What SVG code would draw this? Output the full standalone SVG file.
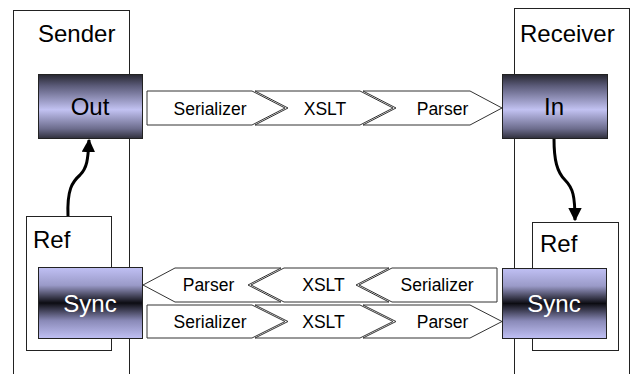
<svg xmlns="http://www.w3.org/2000/svg" width="633" height="374" viewBox="0 0 633 374">
<defs>
<linearGradient id="gOut" x1="0" y1="0" x2="0" y2="1">
<stop offset="0" stop-color="#262630"/>
<stop offset="0.18" stop-color="#5c5c7a"/>
<stop offset="0.55" stop-color="#c2c2f2"/>
<stop offset="0.85" stop-color="#6c6c8c"/>
<stop offset="1" stop-color="#30303c"/>
</linearGradient>
<linearGradient id="gSync" x1="0" y1="0" x2="0" y2="1">
<stop offset="0" stop-color="#c0c0f4"/>
<stop offset="0.25" stop-color="#9a9ac8"/>
<stop offset="0.5" stop-color="#0c0c12"/>
<stop offset="0.75" stop-color="#8a8ab8"/>
<stop offset="1" stop-color="#c0c0f4"/>
</linearGradient>
<marker id="ah" viewBox="0 0 10 10" refX="9" refY="5" markerWidth="4.5" markerHeight="4.5" orient="auto" markerUnits="strokeWidth">
<path d="M0,0 L10,5 L0,10 z" fill="#000"/>
</marker>
</defs>
<style>
.box{fill:#fff;stroke:#222;stroke-width:1}
.node{stroke:#222;stroke-width:1}
.lbl{font-family:"Liberation Sans",Arial,sans-serif;font-size:24px;fill:#000}
.nt{font-family:"Liberation Sans",Arial,sans-serif;font-size:24px;text-anchor:middle}
.st{font-family:"Liberation Sans",Arial,sans-serif;font-size:17.5px;text-anchor:middle;fill:#000}
.chev{fill:#fff;stroke:#333;stroke-width:1}
.conn{fill:none;stroke:#000;stroke-width:3;marker-end:url(#ah)}
</style>
<rect width="633" height="374" fill="#fff"/>
<g id="sender">
<rect class="box" x="13.5" y="10.5" width="116" height="370"/>
<text class="lbl" x="38" y="42">Sender</text>
</g>
<g id="receiver">
<rect class="box" x="514.5" y="8.5" width="115" height="372"/>
<text class="lbl" x="520" y="42">Receiver</text>
</g>
<g id="ref-left">
<rect class="box" x="26.5" y="216.5" width="85" height="134"/>
<text class="lbl" x="33" y="248">Ref</text>
</g>
<g id="ref-right">
<rect class="box" x="532.5" y="222.5" width="86" height="128"/>
<text class="lbl" x="540" y="252">Ref</text>
</g>
<g id="out">
<rect class="node" x="38.5" y="74.5" width="104" height="64" fill="url(#gOut)"/>
<text class="nt" x="90" y="115" fill="#000">Out</text>
</g>
<g id="in">
<rect class="node" x="502.5" y="74.5" width="105" height="64" fill="url(#gOut)"/>
<text class="nt" x="554" y="115" fill="#000">In</text>
</g>
<g id="sync-left">
<rect class="node" x="38.5" y="267.5" width="104" height="71" fill="url(#gSync)"/>
<text class="nt" x="90" y="312" fill="#fff">Sync</text>
</g>
<g id="sync-right">
<rect class="node" x="502.5" y="268.5" width="104" height="70" fill="url(#gSync)"/>
<text class="nt" x="554" y="312" fill="#fff">Sync</text>
</g>
<g id="pipe-top">
<polygon class="chev" points="147,91 252,91 285,108 252,125 147,125"/>
<polygon class="chev" points="255,91 360,91 393,108 360,125 255,125 288,108"/>
<polygon class="chev" points="363,91 470,91 502,108 470,125 363,125 396,108"/>
<text class="st" x="210" y="114.5">Serializer</text>
<text class="st" x="325" y="114.5">XSLT</text>
<text class="st" x="442.5" y="114.5">Parser</text>
</g>
<g id="pipe-back">
<polygon class="chev" points="497,268 392,268 359,285 392,302 497,302"/>
<polygon class="chev" points="389,268 284,268 251,285 284,302 389,302 356,285"/>
<polygon class="chev" points="281,268 175,268 143,285 175,302 281,302 248,285"/>
<text class="st" x="437" y="291">Serializer</text>
<text class="st" x="323.5" y="291">XSLT</text>
<text class="st" x="208.5" y="291">Parser</text>
</g>
<g id="pipe-fwd">
<polygon class="chev" points="147,305 252,305 285,321.5 252,338 147,338"/>
<polygon class="chev" points="255,305 360,305 393,321.5 360,338 255,338 288,321.5"/>
<polygon class="chev" points="363,305 470,305 502,321.5 470,338 363,338 396,321.5"/>
<text class="st" x="210" y="327.5">Serializer</text>
<text class="st" x="323.5" y="327.5">XSLT</text>
<text class="st" x="442.5" y="327.5">Parser</text>
</g>
<g id="connectors">
<path class="conn" d="M68,216 C67,190 72,182 80,175 C87,168 88,160 89,140"/>
<path class="conn" d="M554,139 C554,160 557,172 565,180 C573,188 575,196 575,220"/>
</g>
</svg>
